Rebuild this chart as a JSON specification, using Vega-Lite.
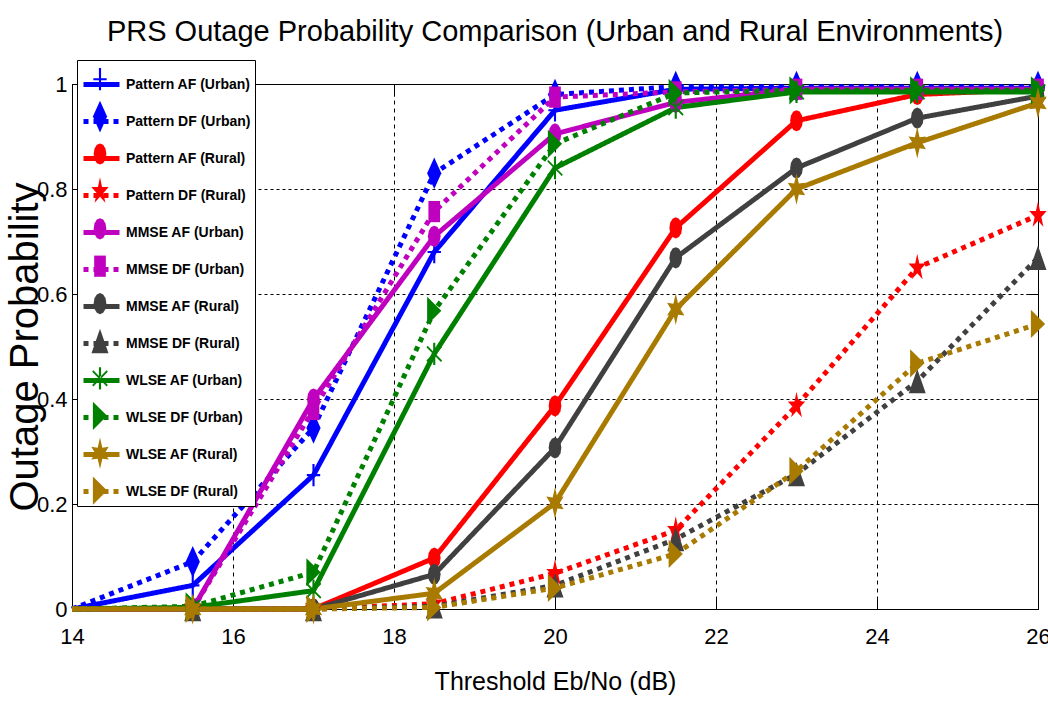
{
  "$schema": "https://vega.github.io/schema/vega-lite/v6.json",
  "width": 966,
  "height": 525,
  "autosize": {"type": "none"},
  "padding": {"left": 72, "top": 84, "right": 10, "bottom": 95},
  "background": "white",
  "title": {
    "text": "PRS Outage Probability Comparison (Urban and Rural Environments)",
    "font": "Liberation Sans",
    "fontSize": 29,
    "fontWeight": "normal",
    "color": "black",
    "anchor": "middle",
    "frame": "group",
    "baseline": "alphabetic",
    "offset": -10
  },
  "data": {
    "values": [
      {"series": "Pattern AF (Urban)", "snr": 14, "p": 0},
      {"series": "Pattern AF (Urban)", "snr": 15.5, "p": 0.045},
      {"series": "Pattern AF (Urban)", "snr": 17, "p": 0.255},
      {"series": "Pattern AF (Urban)", "snr": 18.5, "p": 0.68},
      {"series": "Pattern AF (Urban)", "snr": 20, "p": 0.95},
      {"series": "Pattern AF (Urban)", "snr": 21.5, "p": 0.99},
      {"series": "Pattern AF (Urban)", "snr": 23, "p": 0.992},
      {"series": "Pattern AF (Urban)", "snr": 24.5, "p": 0.992},
      {"series": "Pattern AF (Urban)", "snr": 26, "p": 0.992},
      {"series": "Pattern DF (Urban)", "snr": 14, "p": 0},
      {"series": "Pattern DF (Urban)", "snr": 15.5, "p": 0.09},
      {"series": "Pattern DF (Urban)", "snr": 17, "p": 0.345},
      {"series": "Pattern DF (Urban)", "snr": 18.5, "p": 0.83},
      {"series": "Pattern DF (Urban)", "snr": 20, "p": 0.98},
      {"series": "Pattern DF (Urban)", "snr": 21.5, "p": 0.995},
      {"series": "Pattern DF (Urban)", "snr": 23, "p": 0.995},
      {"series": "Pattern DF (Urban)", "snr": 24.5, "p": 0.995},
      {"series": "Pattern DF (Urban)", "snr": 26, "p": 0.995},
      {"series": "Pattern AF (Rural)", "snr": 14, "p": 0},
      {"series": "Pattern AF (Rural)", "snr": 15.5, "p": 0},
      {"series": "Pattern AF (Rural)", "snr": 17, "p": 0},
      {"series": "Pattern AF (Rural)", "snr": 18.5, "p": 0.097},
      {"series": "Pattern AF (Rural)", "snr": 20, "p": 0.387},
      {"series": "Pattern AF (Rural)", "snr": 21.5, "p": 0.726},
      {"series": "Pattern AF (Rural)", "snr": 23, "p": 0.93},
      {"series": "Pattern AF (Rural)", "snr": 24.5, "p": 0.98},
      {"series": "Pattern AF (Rural)", "snr": 26, "p": 0.99},
      {"series": "Pattern DF (Rural)", "snr": 14, "p": 0},
      {"series": "Pattern DF (Rural)", "snr": 15.5, "p": 0},
      {"series": "Pattern DF (Rural)", "snr": 17, "p": 0},
      {"series": "Pattern DF (Rural)", "snr": 18.5, "p": 0.01},
      {"series": "Pattern DF (Rural)", "snr": 20, "p": 0.068},
      {"series": "Pattern DF (Rural)", "snr": 21.5, "p": 0.15},
      {"series": "Pattern DF (Rural)", "snr": 23, "p": 0.387},
      {"series": "Pattern DF (Rural)", "snr": 24.5, "p": 0.65},
      {"series": "Pattern DF (Rural)", "snr": 26, "p": 0.75},
      {"series": "MMSE AF (Urban)", "snr": 14, "p": 0},
      {"series": "MMSE AF (Urban)", "snr": 15.5, "p": 0},
      {"series": "MMSE AF (Urban)", "snr": 17, "p": 0.4},
      {"series": "MMSE AF (Urban)", "snr": 18.5, "p": 0.71},
      {"series": "MMSE AF (Urban)", "snr": 20, "p": 0.905},
      {"series": "MMSE AF (Urban)", "snr": 21.5, "p": 0.965},
      {"series": "MMSE AF (Urban)", "snr": 23, "p": 0.99},
      {"series": "MMSE AF (Urban)", "snr": 24.5, "p": 0.99},
      {"series": "MMSE AF (Urban)", "snr": 26, "p": 0.99},
      {"series": "MMSE DF (Urban)", "snr": 14, "p": 0},
      {"series": "MMSE DF (Urban)", "snr": 15.5, "p": 0},
      {"series": "MMSE DF (Urban)", "snr": 17, "p": 0.38},
      {"series": "MMSE DF (Urban)", "snr": 18.5, "p": 0.757},
      {"series": "MMSE DF (Urban)", "snr": 20, "p": 0.975},
      {"series": "MMSE DF (Urban)", "snr": 21.5, "p": 0.985},
      {"series": "MMSE DF (Urban)", "snr": 23, "p": 0.99},
      {"series": "MMSE DF (Urban)", "snr": 24.5, "p": 0.99},
      {"series": "MMSE DF (Urban)", "snr": 26, "p": 0.99},
      {"series": "MMSE AF (Rural)", "snr": 14, "p": 0},
      {"series": "MMSE AF (Rural)", "snr": 15.5, "p": 0},
      {"series": "MMSE AF (Rural)", "snr": 17, "p": 0},
      {"series": "MMSE AF (Rural)", "snr": 18.5, "p": 0.066},
      {"series": "MMSE AF (Rural)", "snr": 20, "p": 0.307},
      {"series": "MMSE AF (Rural)", "snr": 21.5, "p": 0.669},
      {"series": "MMSE AF (Rural)", "snr": 23, "p": 0.84},
      {"series": "MMSE AF (Rural)", "snr": 24.5, "p": 0.935},
      {"series": "MMSE AF (Rural)", "snr": 26, "p": 0.977},
      {"series": "MMSE DF (Rural)", "snr": 14, "p": 0},
      {"series": "MMSE DF (Rural)", "snr": 15.5, "p": 0},
      {"series": "MMSE DF (Rural)", "snr": 17, "p": 0},
      {"series": "MMSE DF (Rural)", "snr": 18.5, "p": 0.005},
      {"series": "MMSE DF (Rural)", "snr": 20, "p": 0.045},
      {"series": "MMSE DF (Rural)", "snr": 21.5, "p": 0.133},
      {"series": "MMSE DF (Rural)", "snr": 23, "p": 0.257},
      {"series": "MMSE DF (Rural)", "snr": 24.5, "p": 0.434},
      {"series": "MMSE DF (Rural)", "snr": 26, "p": 0.669},
      {"series": "WLSE AF (Urban)", "snr": 14, "p": 0},
      {"series": "WLSE AF (Urban)", "snr": 15.5, "p": 0.003},
      {"series": "WLSE AF (Urban)", "snr": 17, "p": 0.035},
      {"series": "WLSE AF (Urban)", "snr": 18.5, "p": 0.486},
      {"series": "WLSE AF (Urban)", "snr": 20, "p": 0.84},
      {"series": "WLSE AF (Urban)", "snr": 21.5, "p": 0.955},
      {"series": "WLSE AF (Urban)", "snr": 23, "p": 0.985},
      {"series": "WLSE AF (Urban)", "snr": 24.5, "p": 0.985},
      {"series": "WLSE AF (Urban)", "snr": 26, "p": 0.985},
      {"series": "WLSE DF (Urban)", "snr": 14, "p": 0},
      {"series": "WLSE DF (Urban)", "snr": 15.5, "p": 0.005},
      {"series": "WLSE DF (Urban)", "snr": 17, "p": 0.07},
      {"series": "WLSE DF (Urban)", "snr": 18.5, "p": 0.568},
      {"series": "WLSE DF (Urban)", "snr": 20, "p": 0.886},
      {"series": "WLSE DF (Urban)", "snr": 21.5, "p": 0.983},
      {"series": "WLSE DF (Urban)", "snr": 23, "p": 0.988},
      {"series": "WLSE DF (Urban)", "snr": 24.5, "p": 0.988},
      {"series": "WLSE DF (Urban)", "snr": 26, "p": 0.988},
      {"series": "WLSE AF (Rural)", "snr": 14, "p": 0},
      {"series": "WLSE AF (Rural)", "snr": 15.5, "p": 0},
      {"series": "WLSE AF (Rural)", "snr": 17, "p": 0},
      {"series": "WLSE AF (Rural)", "snr": 18.5, "p": 0.03},
      {"series": "WLSE AF (Rural)", "snr": 20, "p": 0.202},
      {"series": "WLSE AF (Rural)", "snr": 21.5, "p": 0.571},
      {"series": "WLSE AF (Rural)", "snr": 23, "p": 0.8},
      {"series": "WLSE AF (Rural)", "snr": 24.5, "p": 0.888},
      {"series": "WLSE AF (Rural)", "snr": 26, "p": 0.964},
      {"series": "WLSE DF (Rural)", "snr": 14, "p": 0},
      {"series": "WLSE DF (Rural)", "snr": 15.5, "p": 0},
      {"series": "WLSE DF (Rural)", "snr": 17, "p": 0},
      {"series": "WLSE DF (Rural)", "snr": 18.5, "p": 0.003},
      {"series": "WLSE DF (Rural)", "snr": 20, "p": 0.04},
      {"series": "WLSE DF (Rural)", "snr": 21.5, "p": 0.105},
      {"series": "WLSE DF (Rural)", "snr": 23, "p": 0.263},
      {"series": "WLSE DF (Rural)", "snr": 24.5, "p": 0.468},
      {"series": "WLSE DF (Rural)", "snr": 26, "p": 0.543}
    ]
  },
  "layer": [
    {
      "mark": {"type": "line", "strokeWidth": 5, "strokeCap": "butt", "clip": false},
      "encoding": {
        "x": {
          "field": "snr", "type": "quantitative",
          "scale": {"domain": [14, 26], "nice": false, "zero": false},
          "axis": {
            "orient": "bottom",
            "values": [14, 16, 18, 20, 22, 24, 26],
            "title": "Threshold Eb/No (dB)",
            "grid": true, "gridColor": "black", "gridDash": [4, 4], "gridWidth": 1, "gridOpacity": 1,
            "ticks": true, "tickSize": -12, "tickColor": "black", "tickWidth": 1,
            "domainColor": "black",
            "labelFont": "Liberation Sans", "labelFontSize": 22, "labelColor": "black",
            "labelPadding": 29, "labelFlush": false,
            "titleFont": "Liberation Sans", "titleFontSize": 25, "titleFontWeight": "normal",
            "titleColor": "black", "titlePadding": 22
          }
        },
        "y": {
          "field": "p", "type": "quantitative",
          "scale": {"domain": [0, 1], "nice": false},
          "axis": {
            "orient": "left",
            "values": [0, 0.2, 0.4, 0.6, 0.8, 1],
            "format": "~g",
            "title": "Outage Probability",
            "grid": true, "gridColor": "black", "gridDash": [3, 3], "gridWidth": 1, "gridOpacity": 1,
            "ticks": true, "tickSize": -12, "tickColor": "black", "tickWidth": 1,
            "domainColor": "black",
            "labelFont": "Liberation Sans", "labelFontSize": 22, "labelColor": "black",
            "labelPadding": 17, "labelFlush": false,
            "titleFont": "Liberation Sans", "titleFontSize": 40, "titleFontWeight": "normal",
            "titleColor": "black", "titlePadding": -9
          }
        },
        "color": {
          "field": "series", "type": "nominal",
          "scale": {
            "domain": ["Pattern AF (Urban)", "Pattern DF (Urban)", "Pattern AF (Rural)", "Pattern DF (Rural)", "MMSE AF (Urban)", "MMSE DF (Urban)", "MMSE AF (Rural)", "MMSE DF (Rural)", "WLSE AF (Urban)", "WLSE DF (Urban)", "WLSE AF (Rural)", "WLSE DF (Rural)"],
            "range": ["#0000ff", "#0000ff", "#ff0000", "#ff0000", "#bf00bf", "#bf00bf", "#404040", "#404040", "#008000", "#008000", "#a87a00", "#a87a00"]
          },
          "legend": {
            "orient": "none", "legendX": 5, "legendY": -24, "title": null,
            "symbolType": "stroke", "symbolSize": 1296, "symbolStrokeWidth": 5,
            "labelFont": "Liberation Sans", "labelFontSize": 14, "labelFontWeight": "bold",
            "labelColor": "black", "labelOffset": 4, "labelLimit": 300,
            "rowPadding": 6, "padding": 4,
            "fillColor": "white", "strokeColor": "black"
          }
        },
        "strokeDash": {
          "field": "series", "type": "nominal",
          "scale": {
            "domain": ["Pattern AF (Urban)", "Pattern DF (Urban)", "Pattern AF (Rural)", "Pattern DF (Rural)", "MMSE AF (Urban)", "MMSE DF (Urban)", "MMSE AF (Rural)", "MMSE DF (Rural)", "WLSE AF (Urban)", "WLSE DF (Urban)", "WLSE AF (Rural)", "WLSE DF (Rural)"],
            "range": [[1, 0], [5, 5], [1, 0], [5, 5], [1, 0], [5, 5], [1, 0], [5, 5], [1, 0], [5, 5], [1, 0], [5, 5]]
          },
          "legend": {
            "orient": "none", "legendX": 5, "legendY": -24, "title": null,
            "symbolType": "stroke", "symbolSize": 1296, "symbolStrokeWidth": 5,
            "labelFont": "Liberation Sans", "labelFontSize": 14, "labelFontWeight": "bold",
            "labelColor": "black", "labelOffset": 4, "labelLimit": 300,
            "rowPadding": 6, "padding": 4,
            "fillColor": "white", "strokeColor": "black"
          }
        }
      }
    },
    {
      "transform": [{"filter": "datum.snr > 14"}],
      "mark": {"type": "point", "filled": true, "opacity": 1, "size": 450, "strokeWidth": 0, "clip": false},
      "encoding": {
        "x": {
          "field": "snr", "type": "quantitative",
          "scale": {"domain": [14, 26], "nice": false, "zero": false},
          "axis": {
            "orient": "top", "values": [16, 18, 20, 22, 24],
            "labels": false, "title": null, "grid": false, "domain": false,
            "ticks": true, "tickSize": -12, "tickColor": "black", "tickWidth": 1
          }
        },
        "y": {
          "field": "p", "type": "quantitative",
          "scale": {"domain": [0, 1], "nice": false},
          "axis": {
            "orient": "right", "values": [0.2, 0.4, 0.6, 0.8],
            "labels": false, "title": null, "grid": false, "domain": false,
            "ticks": true, "tickSize": -12, "tickColor": "black", "tickWidth": 1
          }
        },
        "fill": {
          "field": "series", "type": "nominal",
          "scale": {
            "range": ["#404040", "#bf00bf", "#404040", "#bf00bf", "#ff0000", "#0000ff", "#ff0000", "#0000ff", "#a87a00", "#008000", "#a87a00", "#008000"]
          },
          "legend": {
            "orient": "none", "legendX": 5, "legendY": -21.8, "title": null,
            "values": ["Pattern AF (Urban)", "Pattern DF (Urban)", "Pattern AF (Rural)", "Pattern DF (Rural)", "MMSE AF (Urban)", "MMSE DF (Urban)", "MMSE AF (Rural)", "MMSE DF (Rural)", "WLSE AF (Urban)", "WLSE DF (Urban)", "WLSE AF (Rural)", "WLSE DF (Rural)"],
            "symbolSize": 450, "symbolStrokeWidth": 0, "gridAlign": "all",
            "labelFont": "Liberation Sans", "labelFontSize": 14, "labelFontWeight": "bold",
            "labelOpacity": 0, "labelOffset": 4, "labelLimit": 300,
            "rowPadding": 5.4, "padding": 6, "symbolOffset": 6
          }
        },
        "shape": {
          "field": "series", "type": "nominal",
          "scale": {
            "range": [
              "M0,-1L0.3,-0.866L0.52,-0.5L0.6,0L0.52,0.5L0.3,0.866L0,1L-0.3,0.866L-0.52,0.5L-0.6,0L-0.52,-0.5L-0.3,-0.866Z",
              "M0,-1L0.3,-0.866L0.52,-0.5L0.6,0L0.52,0.5L0.3,0.866L0,1L-0.3,0.866L-0.52,0.5L-0.6,0L-0.52,-0.5L-0.3,-0.866Z",
              "M0,-1.15L0.8,1.15L-0.8,1.15Z",
              "M-0.55,-1H0.55V1H-0.55Z",
              "M0,-1L0.3,-0.866L0.52,-0.5L0.6,0L0.52,0.5L0.3,0.866L0,1L-0.3,0.866L-0.52,0.5L-0.6,0L-0.52,-0.5L-0.3,-0.866Z",
              "M-0.63,-0.1H-0.1V-1.05H0.1V-0.1H0.63V0.1H0.1V1.05H-0.1V0.1H-0.63Z",
              "M0,-1.33L0.194,-0.411L0.822,-0.411L0.314,0.157L0.508,1.076L0,0.508L-0.508,1.076L-0.314,0.157L-0.822,-0.411L-0.194,-0.411Z",
              "M0,-1.49L0.67,0L0,1.49L-0.67,0Z",
              "M0,-1.49L0.22,-0.52L0.82,-0.6L0.45,0L0.82,0.6L0.22,0.52L0,1.49L-0.22,0.52L-0.82,0.6L-0.45,0L-0.82,-0.6L-0.22,-0.52Z",
              "M-0.1,-1.05H0.1V1.05H-0.1Z M-0.74,-0.63L-0.63,-0.76L0.74,0.63L0.63,0.76Z M0.74,-0.63L0.63,-0.76L-0.74,0.63L-0.63,0.76Z",
              "M-0.67,-1.33L0.67,0L-0.67,1.33Z",
              "M-0.67,-1.33L0.67,0L-0.67,1.33Z"
            ]
          },
          "legend": {
            "orient": "none", "legendX": 5, "legendY": -21.8, "title": null,
            "values": ["Pattern AF (Urban)", "Pattern DF (Urban)", "Pattern AF (Rural)", "Pattern DF (Rural)", "MMSE AF (Urban)", "MMSE DF (Urban)", "MMSE AF (Rural)", "MMSE DF (Rural)", "WLSE AF (Urban)", "WLSE DF (Urban)", "WLSE AF (Rural)", "WLSE DF (Rural)"],
            "symbolSize": 450, "symbolStrokeWidth": 0, "gridAlign": "all",
            "labelFont": "Liberation Sans", "labelFontSize": 14, "labelFontWeight": "bold",
            "labelOpacity": 0, "labelOffset": 4, "labelLimit": 300,
            "rowPadding": 5.4, "padding": 6, "symbolOffset": 6
          }
        }
      }
    }
  ],
  "resolve": {"axis": {"x": "independent", "y": "independent"}},
  "config": {
    "view": {"stroke": "black", "strokeWidth": 1},
    "font": "Liberation Sans"
  }
}
